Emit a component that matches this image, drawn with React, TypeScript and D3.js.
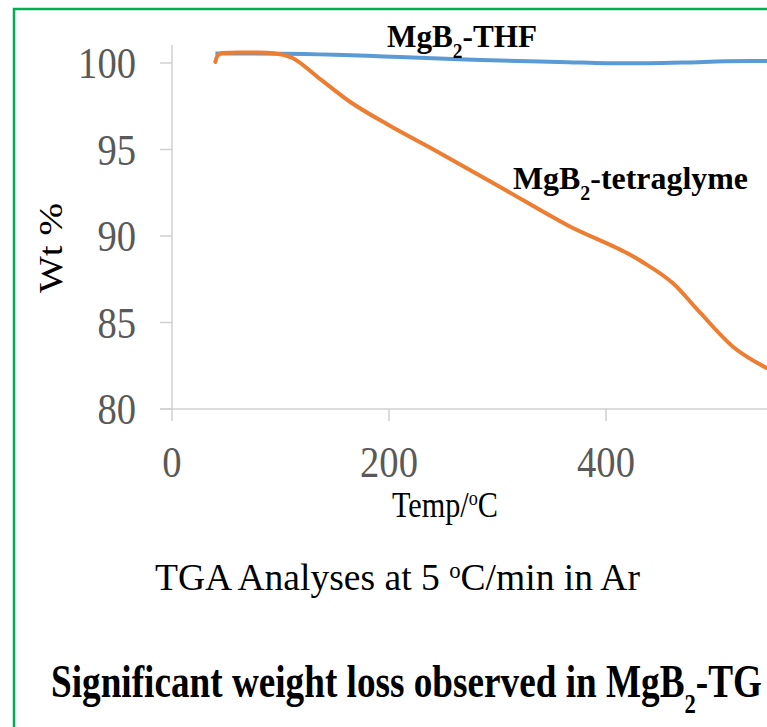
import React from "react";
import * as d3 from "d3";

// Temperature (°C) and weight (%) readings for each sample
const thfTemp = [40, 100, 150, 195, 240, 285, 330, 365, 400, 440, 475, 510, 550];
const thfWt = [100.55, 100.54, 100.48, 100.38, 100.28, 100.17, 100.1, 100.05, 99.99, 99.99, 100.03, 100.1, 100.12];

const tgTemp = [40, 41, 43, 47, 60, 80, 95, 111, 134, 164, 200, 241, 302, 364, 431, 462, 487, 517, 548];
const tgWt = [100.06, 100.3, 100.48, 100.58, 100.6, 100.6, 100.55, 100.29, 99.2, 97.76, 96.4, 95.0, 92.85, 90.64, 88.6, 87.25, 85.55, 83.6, 82.37];

const xTicks = [0, 200, 400];
const yTicks = [80, 85, 90, 95, 100];

const W = 767;
const H = 727;
const SERIF = "'Liberation Serif', 'Times New Roman', serif";

export default function App() {
  const x = d3.scaleLinear().domain([0, 600]).range([172, 823]);
  const y = d3.scaleLinear().domain([80, 100]).range([409, 63]);
  const yTop = y(101.04);

  const line = d3
    .line<[number, number]>()
    .x((d) => x(d[0]))
    .y((d) => y(d[1]))
    .curve(d3.curveMonotoneX);

  const thf = thfTemp.map((t, i) => [t, thfWt[i]] as [number, number]);
  const tg = tgTemp.map((t, i) => [t, tgWt[i]] as [number, number]);

  const axisColor = "#D0D0D0";
  const tickColor = "#595959";

  return (
    <svg
      width={W}
      height={H}
      style={{ position: "absolute", left: 0, top: 0, background: "#fff", fontFamily: SERIF }}
    >
      <rect x={0} y={0} width={W} height={H} fill="#fff" />
      <rect x={14} y={9} width={800} height={800} fill="none" stroke="#00B050" strokeWidth={2.5} />

      {/* axes */}
      <line x1={x(0)} x2={x(0)} y1={yTop} y2={y(80)} stroke={axisColor} strokeWidth={1.5} />
      <line x1={160} x2={W} y1={y(80)} y2={y(80)} stroke={axisColor} strokeWidth={1.5} />
      {yTicks.map((v) => (
        <g key={"y" + v}>
          <line x1={160} x2={x(0)} y1={y(v)} y2={y(v)} stroke={axisColor} strokeWidth={1.5} />
          <text
            x={136}
            y={y(v) + 15}
            textAnchor="end"
            fontSize={44}
            fill={tickColor}
            textLength={19.3 * String(v).length}
            lengthAdjust="spacingAndGlyphs"
          >
            {v}
          </text>
        </g>
      ))}
      {xTicks.map((t) => (
        <g key={"x" + t}>
          <line x1={x(t)} x2={x(t)} y1={y(80)} y2={y(80) + 12} stroke={axisColor} strokeWidth={1.5} />
          <text
            x={x(t)}
            y={477}
            textAnchor="middle"
            fontSize={44}
            fill={tickColor}
            textLength={19.3 * String(t).length}
            lengthAdjust="spacingAndGlyphs"
          >
            {t}
          </text>
        </g>
      ))}

      {/* series */}
      <path d={line(thf) || ""} fill="none" stroke="#5B9BD5" strokeWidth={4} strokeLinejoin="round" />
      <path d={line(tg) || ""} fill="none" stroke="#ED7D31" strokeWidth={4} strokeLinejoin="round" strokeLinecap="round" />

      {/* axis titles */}
      <text
        transform="translate(62,248) scale(0.9,1) rotate(-90)"
        textAnchor="middle"
        fontSize={37}
        fill="#000"
        textLength={90}
        lengthAdjust="spacingAndGlyphs"
      >
        Wt %
      </text>
      <text x={392} y={517} fontSize={35} fill="#000" textLength={106} lengthAdjust="spacingAndGlyphs">
        Temp/<tspan fontSize={21} baselineShift="super">o</tspan>C
      </text>

      {/* series labels */}
      <text x={387} y={47} fontSize={32} fontWeight="bold" fill="#000" textLength={150} lengthAdjust="spacingAndGlyphs">
        MgB<tspan fontSize={20} baselineShift="sub">2</tspan>-THF
      </text>
      <text x={513} y={189} fontSize={32} fontWeight="bold" fill="#000" textLength={235} lengthAdjust="spacingAndGlyphs">
        MgB<tspan fontSize={20} baselineShift="sub">2</tspan>-tetraglyme
      </text>

      {/* captions */}
      <text x={155} y={590} fontSize={38} fill="#000" textLength={485} lengthAdjust="spacingAndGlyphs">
        TGA Analyses at 5 <tspan fontSize={23} baselineShift="super">o</tspan>C/min in Ar
      </text>
      <text x={51} y={697} fontSize={46} fontWeight="bold" fill="#000" textLength={711} lengthAdjust="spacingAndGlyphs">
        Significant weight loss observed in MgB<tspan fontSize={28} baselineShift="sub">2</tspan>-TG
      </text>
    </svg>
  );
}
